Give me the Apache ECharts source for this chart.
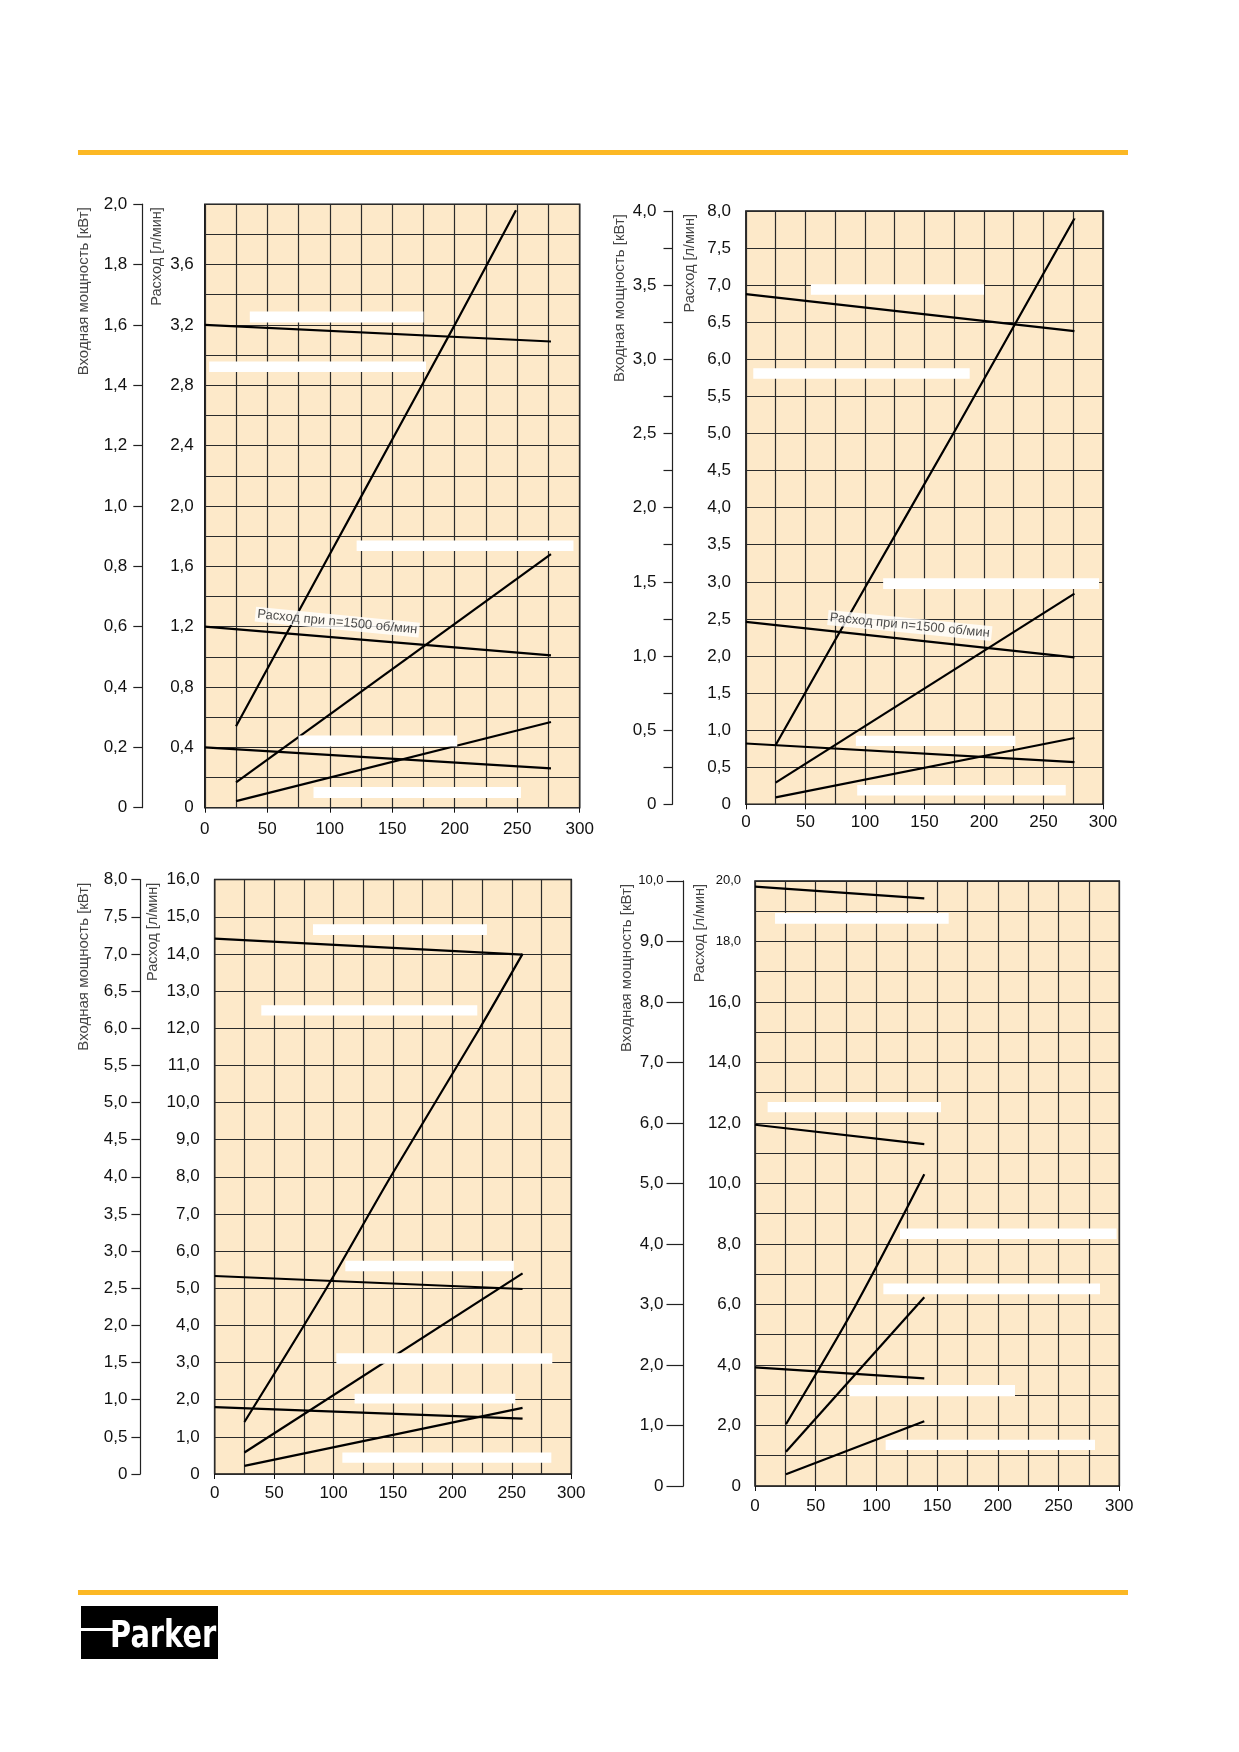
<!DOCTYPE html>
<html>
<head>
<meta charset="utf-8">
<title>Расход и входная мощность</title>
<script src="https://cdn.jsdelivr.net/npm/echarts@6/dist/echarts.min.js"></script>
<style>
    html, body {margin:0;padding:0;background:#fff;}
    #main {width:1239px;height:1752px;}
</style>
</head>
<body>
<div id="main"></div>
<script>
// ось X: давление [бар]; расход в л/мин (левая ось у поля), мощность в кВт (вынесенная ось)
var noteText = 'Расход при n=1500 об/мин';

// диаграмма 1
var c1Flow = [
    [[0, 3.20], [277, 3.09]],
    [[0, 1.20], [277, 1.01]],
    [[0, 0.40], [277, 0.26]]
];
var c1Power = [
    [[25, 0.27], [100, 0.84], [150, 1.22], [200, 1.60], [249, 1.98]],
    [[25, 0.084], [277, 0.84]],
    [[25, 0.022], [277, 0.284]]
];
var c1Boxes = [[36, 175, 3.216, 3.288], [3.5, 177, 2.887, 2.957], [121.5, 295, 1.701, 1.771], [75, 202, 0.406, 0.479], [87, 253, 0.065, 0.137]];
var c1Note = [[106, 1.23]];

// диаграмма 2
var c2Flow = [
    [[0, 6.88], [276, 6.38]],
    [[0, 2.46], [276, 1.98]],
    [[0, 0.82], [276, 0.57]]
];
var c2Power = [
    [[25, 0.40], [100, 1.46], [175, 2.51], [276, 3.95]],
    [[25, 0.146], [276, 1.42]],
    [[25, 0.047], [276, 0.447]]
];
var c2Boxes = [[54.6, 200, 6.871, 7.012], [6.2, 188, 5.737, 5.878], [115.3, 296.7, 2.902, 3.048], [92.4, 226.4, 0.785, 0.926], [93.5, 268.7, 0.12, 0.26]];
var c2Note = [[137.7, 2.41]];

// диаграмма 3
var c3Flow = [
    [[0, 14.41], [259, 13.98]],
    [[0, 5.33], [259, 4.98]],
    [[0, 1.80], [259, 1.49]]
];
var c3Power = [
    [[25, 0.70], [94, 2.50], [148, 4.00], [223, 6.00], [259, 7.00]],
    [[25, 0.29], [259, 2.70]],
    [[25, 0.11], [259, 0.89]]
];
var c3Boxes = [[82.7, 229, 14.51, 14.80], [39.2, 220.9, 12.34, 12.62], [109.9, 251.7, 5.46, 5.74], [102.3, 284, 2.97, 3.25], [117.7, 252.9, 1.90, 2.16], [107.4, 283.2, 0.30, 0.58]];

// диаграмма 4
var c4Flow = [
    [[0, 19.81], [139.4, 19.42]],
    [[0, 11.94], [139.4, 11.30]],
    [[0, 3.92], [139.4, 3.56]]
];
var c4Power = [
    [[25.5, 1.02], [82.5, 2.97], [139.4, 5.15]],
    [[25.5, 0.565], [139.4, 3.12]],
    [[25.5, 0.195], [139.4, 1.07]]
];
var c4Boxes = [[16.5, 159.5, 18.58, 18.94], [10.4, 153.2, 12.35, 12.69], [119.4, 297.8, 8.16, 8.51], [105.7, 284.1, 6.34, 6.69], [77.7, 214.1, 2.97, 3.34], [107.6, 280, 1.19, 1.53]];

var FONT = '"Liberation Sans", Arial, sans-serif';

function fmt(v) {
    return v === 0 ? '0' : v.toFixed(1).replace('.', ',');
}

// размещение и шкалы каждой диаграммы
var charts = [
    {flow: c1Flow, power: c1Power, boxes: c1Boxes, note: c1Note,
     left: 204.8, top: 204.2, width: 374.9, height: 603.5,
     flowMax: 4, flowStep: 0.4, flowMinor: 2, flowMargin: 11,
     flowLabel: function (v) { return v > 3.9 ? '' : fmt(v); },
     powMax: 2, powStep: 0.2, powOffset: 62.5, powTick: 9, powMargin: 15,
     powLabel: fmt, titleX: [84, 157], xMargin: 13},
    {flow: c2Flow, power: c2Power, boxes: c2Boxes, note: c2Note,
     left: 745.9, top: 211, width: 357.1, height: 593.3,
     flowMax: 8, flowStep: 0.5, flowMinor: 0, flowMargin: 15,
     flowLabel: fmt,
     powMax: 4, powStep: 0.25, powOffset: 73.4, powTick: 9, powMargin: 16,
     powLabel: function (v) { return Math.abs(v * 2 - Math.round(v * 2)) < 1e-6 ? fmt(v) : ''; },
     titleX: [620, 690], xMargin: 10},
    {flow: c3Flow, power: c3Power, boxes: c3Boxes, note: null,
     left: 214.7, top: 879.6, width: 356.6, height: 594.4,
     flowMax: 16, flowStep: 1, flowMinor: 0, flowMargin: 15,
     flowLabel: fmt,
     powMax: 8, powStep: 0.5, powOffset: 74.3, powTick: 9, powMargin: 13,
     powLabel: fmt, titleX: [84, 153], xMargin: 11},
    {flow: c4Flow, power: c4Power, boxes: c4Boxes, note: null,
     left: 755, top: 880.9, width: 364.3, height: 605.1,
     flowMax: 20, flowStep: 2, flowMinor: 2, flowMargin: 14,
     flowLabel: function (v) { return v >= 18 ? '{s|' + fmt(v) + '}' : fmt(v); },
     powMax: 10, powStep: 1, powOffset: 71.5, powTick: 17, powMargin: 20,
     powLabel: function (v) { return v >= 10 ? '{s|' + fmt(v) + '}' : fmt(v); },
     titleX: [626.5, 700], xMargin: 12}
];

var gridLine = {color: '#2b2b2b', width: 1.2};
var smallRich = {s: {fontSize: 13, fontFamily: FONT, color: '#111'}};

var option = {
    animation: false,
    backgroundColor: '#fff',
    grid: [], xAxis: [], yAxis: [], series: [],
    graphic: [
        {type: 'rect', shape: {x: 78, y: 150, width: 1050, height: 5}, style: {fill: '#fcb824'}},
        {type: 'rect', shape: {x: 78, y: 1590, width: 1050, height: 5}, style: {fill: '#fcb824'}},
        {type: 'rect', shape: {x: 81, y: 1606, width: 137, height: 53}, style: {fill: '#000'}},
        {type: 'rect', shape: {x: 81, y: 1628, width: 37, height: 3}, style: {fill: '#fff'}},
        {type: 'text', x: 110, y: 1637, scaleX: 0.78, z: 10,
         style: {text: 'Parker', font: 'bold 37px "DejaVu Sans", sans-serif', fill: '#fff', align: 'left', verticalAlign: 'middle'}}
    ]
};

charts.forEach(function (c, i) {
    option.grid.push({
        left: c.left, top: c.top, width: c.width, height: c.height,
        show: true, backgroundColor: '#fde9c9', borderColor: '#111', borderWidth: 1.5,
        containLabel: false, outerBoundsMode: 'none'
    });
    option.xAxis.push({
        type: 'value', gridIndex: i, min: 0, max: 300, interval: 50,
        axisLine: {show: false},
        axisTick: {show: true, length: 5, lineStyle: {color: '#111'}},
        axisLabel: {margin: c.xMargin, fontSize: 17, fontFamily: FONT, color: '#111'},
        splitLine: {show: true, lineStyle: gridLine},
        minorTick: {show: false, splitNumber: 2},
        minorSplitLine: {show: true, lineStyle: gridLine}
    });
    // ось расхода
    option.yAxis.push({
        type: 'value', gridIndex: i, position: 'left', min: 0, max: c.flowMax, interval: c.flowStep,
        axisLine: {show: false}, axisTick: {show: false},
        axisLabel: {margin: c.flowMargin, fontSize: 17, fontFamily: FONT, color: '#111',
                    formatter: c.flowLabel, rich: smallRich},
        splitLine: {show: true, lineStyle: gridLine},
        minorTick: {show: false, splitNumber: c.flowMinor || 5},
        minorSplitLine: {show: c.flowMinor > 0, lineStyle: gridLine}
    });
    // ось мощности
    option.yAxis.push({
        type: 'value', gridIndex: i, position: 'left', offset: c.powOffset,
        min: 0, max: c.powMax, interval: c.powStep,
        axisLine: {show: true, lineStyle: {color: '#222', width: 1.2}},
        axisTick: {show: true, length: c.powTick, lineStyle: {color: '#222', width: 1.2}},
        axisLabel: {margin: c.powMargin, fontSize: 17, fontFamily: FONT, color: '#111',
                    formatter: c.powLabel, rich: smallRich},
        splitLine: {show: false}
    });

    var yFlow = i * 2, yPow = i * 2 + 1;
    c.flow.forEach(function (d) {
        option.series.push({type: 'line', xAxisIndex: i, yAxisIndex: yFlow, data: d,
            symbol: 'none', lineStyle: {color: '#000', width: 2.2}, z: 3});
    });
    c.power.forEach(function (d) {
        option.series.push({type: 'line', xAxisIndex: i, yAxisIndex: yPow, data: d,
            symbol: 'none', smooth: d.length > 2 ? 0.3 : false,
            lineStyle: {color: '#000', width: 2.2}, z: 3});
    });
    // белые поля под подписи
    option.series.push({
        type: 'custom', xAxisIndex: i, yAxisIndex: yFlow, data: c.boxes, z: 5, silent: true,
        encode: {x: [0, 1], y: [2, 3]},
        renderItem: function (params, api) {
            var p0 = api.coord([api.value(0), api.value(3)]);
            var p1 = api.coord([api.value(1), api.value(2)]);
            return {type: 'rect', shape: {x: p0[0], y: p0[1], width: p1[0] - p0[0], height: p1[1] - p0[1]},
                    style: {fill: '#fff'}};
        }
    });
    if (c.note) {
        option.series.push({
            type: 'scatter', xAxisIndex: i, yAxisIndex: yFlow, data: c.note, z: 6, silent: true,
            symbolSize: 0.1, itemStyle: {color: 'transparent'},
            label: {show: true, position: 'inside', formatter: noteText, rotate: -5.6,
                    fontSize: 13, fontFamily: FONT, color: '#222', backgroundColor: '#fff', padding: [1, 2]}
        });
    }
    var ty = c.top + 3;
    option.graphic.push(
        {type: 'text', x: c.titleX[0], y: ty, rotation: Math.PI / 2,
         style: {text: 'Входная мощность [кВт]', font: '15px ' + FONT, fill: '#444', align: 'right', verticalAlign: 'middle'}},
        {type: 'text', x: c.titleX[1], y: ty, rotation: Math.PI / 2,
         style: {text: 'Расход [л/мин]', font: '14.5px ' + FONT, fill: '#444', align: 'right', verticalAlign: 'middle'}}
    );
});

var chart = echarts.init(document.getElementById('main'), null, {renderer: 'canvas'});
chart.setOption(option);
</script>
</body>
</html>
